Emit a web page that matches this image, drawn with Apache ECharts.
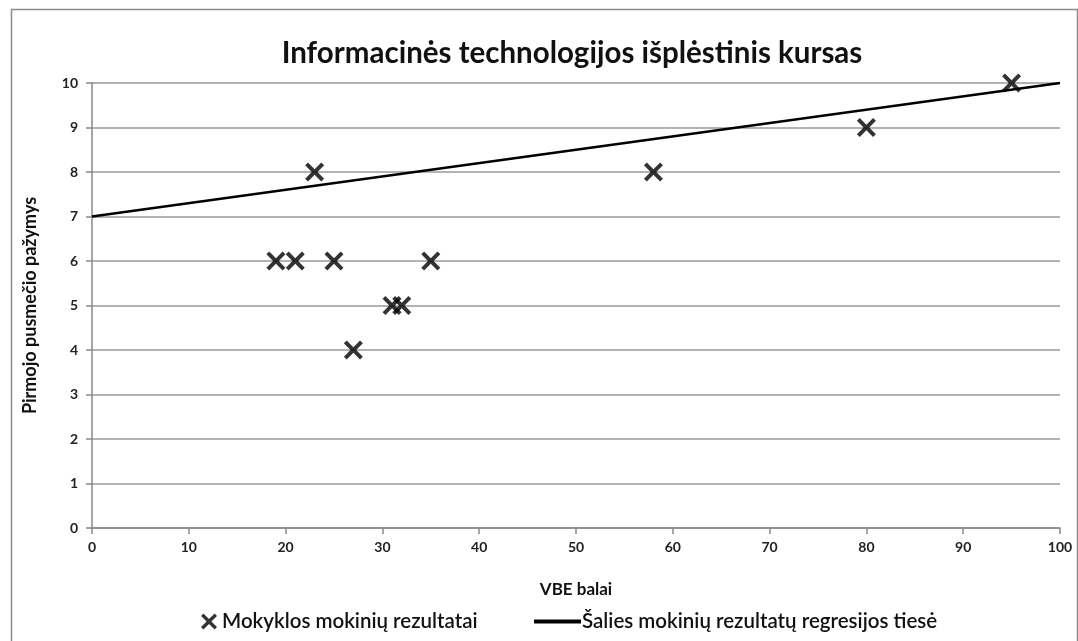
<!DOCTYPE html>
<html>
<head>
<meta charset="utf-8">
<script src="https://cdn.jsdelivr.net/npm/echarts@6/dist/echarts.min.js"></script>
<style>
  html, body { margin: 0; padding: 0; background: #fff; }
  #chart { width: 1078px; height: 641px; }
</style>
</head>
<body>
<div id="chart"></div>
<script>
// School students: VBE score vs. first-semester grade
const vbeScores = [19, 21, 25, 35, 23, 27, 31, 32, 58, 80, 95];
const semesterGrades = [6, 6, 6, 6, 8, 4, 5, 5, 8, 9, 10];

// National regression line endpoints
const regressionX = [0, 100];
const regressionY = [7, 10];

const titleText = 'Informacinės technologijos išplėstinis kursas';
const xName = 'VBE balai';
const yName = 'Pirmojo pusmečio pažymys';
const schoolLabel = 'Mokyklos mokinių rezultatai';
const nationLabel = 'Šalies mokinių rezultatų regresijos tiesė';

const FONT = 'Lato, "Open Sans", sans-serif';
const crossPath = 'path://M3,0 L10,7 L17,0 L20,3 L13,10 L20,17 L17,20 L10,13 L3,20 L0,17 L7,10 L0,3 Z';

const chart = echarts.init(document.getElementById('chart'));
chart.setOption({
  animation: false,
  backgroundColor: '#fff',
  title: {
    text: titleText,
    left: 567, top: 33, textAlign: 'center',
    textStyle: { fontFamily: FONT, fontSize: 29.5, fontWeight: 'bold', color: '#111' }
  },
  graphic: [{
    type: 'rect', left: 9, top: 7,
    shape: { width: 1066, height: 640 },
    style: { fill: 'none', stroke: '#8c8c8c', lineWidth: 1.5 },
    silent: true
  }],
  legend: [
    {
      left: 196, top: 606,
      itemWidth: 16, itemHeight: 16,
      textStyle: { fontFamily: FONT, fontSize: 20.5, fontWeight: 600, color: '#111' },
      data: [{ name: schoolLabel, icon: crossPath, itemStyle: { color: '#000' } }]
    },
    {
      left: 529, top: 606,
      itemWidth: 47, itemHeight: 4,
      textStyle: { fontFamily: FONT, fontSize: 20.5, fontWeight: 600, color: '#111', padding: [0, 0, 0, -4] },
      data: [{ name: nationLabel, icon: 'rect', itemStyle: { color: '#000' } }]
    }
  ],
  grid: { left: 92, right: 18, top: 83, bottom: 113 },
  xAxis: {
    type: 'value', min: 0, max: 100, interval: 10,
    name: xName, nameLocation: 'middle', nameGap: 53,
    nameTextStyle: { fontFamily: FONT, fontSize: 17, fontWeight: 'bold', color: '#111' },
    axisLine: { show: true, lineStyle: { color: '#888', width: 1.5 } },
    axisTick: { show: true, length: 6, lineStyle: { color: '#888', width: 1.5 } },
    axisLabel: { margin: 12, fontFamily: FONT, fontSize: 14, fontWeight: 'bold', color: '#222' },
    splitLine: { show: false }
  },
  yAxis: {
    type: 'value', min: 0, max: 10, interval: 1,
    name: yName, nameLocation: 'middle', nameGap: 53, nameRotate: 90,
    nameTextStyle: { fontFamily: FONT, fontSize: 18, fontWeight: 'bold', color: '#111' },
    axisLine: { show: true, lineStyle: { color: '#888', width: 1.5 } },
    axisTick: { show: true, length: 6, inside: false, lineStyle: { color: '#888', width: 1.5 } },
    axisLabel: { margin: 14, fontFamily: FONT, fontSize: 14, fontWeight: 'bold', color: '#222' },
    splitLine: { show: true, lineStyle: { color: '#9a9a9a', width: 1.5 } }
  },
  series: [
    {
      name: schoolLabel,
      type: 'scatter',
      symbol: crossPath,
      symbolSize: 19,
      itemStyle: { color: '#000' },
      data: vbeScores.map((x, i) => [x, semesterGrades[i]]),
      z: 3
    },
    {
      name: nationLabel,
      type: 'line',
      symbol: 'none',
      lineStyle: { color: '#000', width: 2.5 },
      itemStyle: { color: '#000' },
      data: regressionX.map((x, i) => [x, regressionY[i]]),
      z: 4
    }
  ]
});
</script>
</body>
</html>
